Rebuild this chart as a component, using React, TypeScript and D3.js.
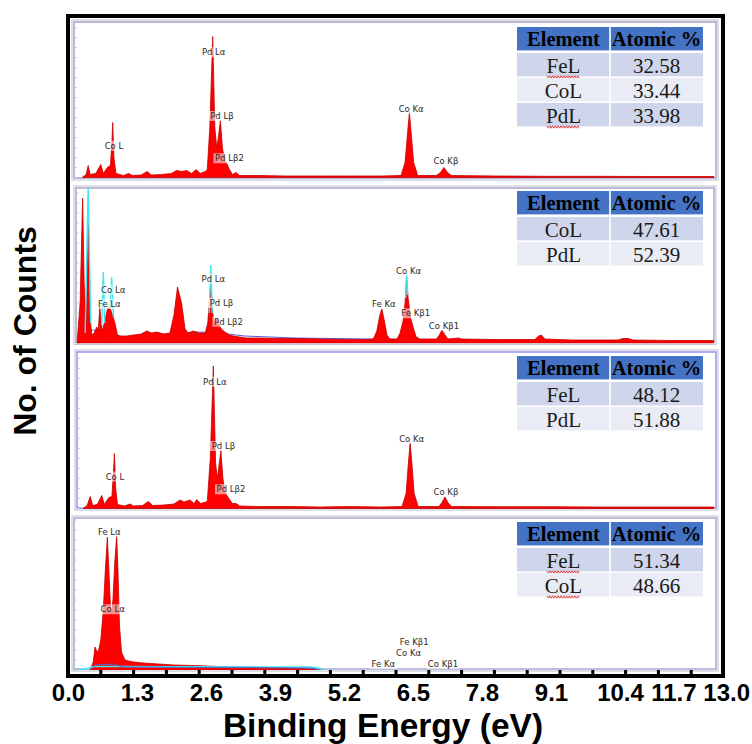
import { useMemo } from 'react';
import * as d3 from 'd3';

type Pt = [number, number];
type Peak = [string, number, number];

// x axis (keV)
const tickLabels = ['0.0', '1.3', '2.6', '3.9', '5.2', '6.5', '7.8', '9.1', '10.4', '11.7', '13.0'];
const minorTicks = d3.range(1, 20).map((i) => i * 0.65);

// spectra: [energy keV, counts]
const spectrumFeCoPd: Pt[] = [
  [0.28, 0], [0.36, 30], [0.4, 120], [0.44, 30], [0.55, 40], [0.65, 130], [0.7, 40], [0.78, 100],
  [0.84, 120], [0.87, 350], [0.886, 550], [0.91, 200], [0.95, 40], [1.1, 20], [1.2, 40], [1.28, 20],
  [1.45, 25], [1.57, 60], [1.65, 25], [1.85, 30], [2.05, 40], [2.15, 70], [2.25, 60], [2.35, 70],
  [2.45, 40], [2.54, 80], [2.62, 40], [2.72, 60], [2.76, 80], [2.81, 500], [2.868, 1410], [2.91, 500],
  [2.947, 300], [2.98, 400], [3.02, 570], [3.06, 300], [3.1, 170], [3.145, 140], [3.2, 80], [3.26, 30],
  [3.33, 50], [3.4, 20], [3.8, 20], [4.3, 15], [5.0, 15], [5.6, 15], [6.2, 15], [6.6, 20], [6.68, 150],
  [6.73, 450], [6.766, 650], [6.8, 450], [6.85, 150], [6.93, 20], [7.3, 20], [7.38, 50], [7.45, 100],
  [7.52, 50], [7.6, 20], [8.5, 15], [9.5, 12], [10.5, 12], [11.5, 10], [12.8, 10],
];
const spectrumCoPd: Pt[] = [
  [0.18, 0], [0.24, 400], [0.29, 1450], [0.32, 600], [0.36, 160], [0.38, 600], [0.4, 1260], [0.43, 300],
  [0.47, 80], [0.52, 100], [0.57, 160], [0.6, 120], [0.63, 360], [0.66, 200], [0.68, 120], [0.72, 200],
  [0.78, 340], [0.83, 360], [0.88, 280], [0.93, 200], [0.98, 80], [1.05, 70], [1.16, 70], [1.3, 80],
  [1.45, 90], [1.56, 120], [1.66, 100], [1.76, 110], [1.9, 90], [2.02, 100], [2.1, 280], [2.17, 560],
  [2.25, 400], [2.32, 140], [2.38, 100], [2.48, 120], [2.6, 100], [2.72, 100], [2.77, 200], [2.83, 600],
  [2.87, 300], [2.89, 190], [2.93, 240], [2.96, 230], [3.01, 160], [3.06, 130], [3.11, 110], [3.2, 80],
  [3.28, 70], [3.4, 60], [3.54, 50], [3.8, 50], [4.2, 45], [4.6, 45], [5.0, 40], [5.5, 35], [5.9, 35],
  [6.05, 40], [6.12, 120], [6.18, 280], [6.22, 340], [6.27, 220], [6.32, 80], [6.38, 40], [6.52, 40],
  [6.58, 100], [6.64, 220], [6.68, 400], [6.71, 660], [6.74, 450], [6.79, 250], [6.85, 140], [6.9, 60],
  [6.98, 40], [7.3, 40], [7.36, 80], [7.41, 130], [7.47, 80], [7.53, 40], [7.75, 50], [7.8, 40],
  [8.5, 35], [9.25, 35], [9.33, 70], [9.38, 80], [9.45, 40], [10.0, 30], [10.9, 30], [11.0, 45],
  [11.1, 45], [11.2, 30], [12.0, 25], [12.8, 25],
];
const spectrumFePd: Pt[] = [
  [0.3, 0], [0.38, 30], [0.44, 120], [0.49, 30], [0.58, 40], [0.67, 130], [0.72, 40], [0.81, 110],
  [0.87, 120], [0.9, 350], [0.92, 550], [0.945, 200], [0.98, 40], [1.12, 25], [1.23, 45], [1.3, 25],
  [1.48, 30], [1.59, 70], [1.68, 30], [1.9, 35], [2.1, 45], [2.22, 85], [2.3, 65], [2.42, 85], [2.5, 50],
  [2.55, 90], [2.63, 50], [2.76, 70], [2.82, 500], [2.88, 1426], [2.925, 450], [2.96, 300], [2.99, 420],
  [3.03, 580], [3.07, 300], [3.11, 170], [3.15, 130], [3.2, 90], [3.26, 50], [3.33, 50], [3.4, 25],
  [3.8, 20], [4.4, 20], [5.0, 15], [5.6, 20], [6.2, 15], [6.62, 20], [6.7, 150], [6.745, 450],
  [6.78, 660], [6.815, 450], [6.86, 150], [6.94, 20], [7.35, 20], [7.41, 60], [7.47, 116], [7.53, 60],
  [7.6, 20], [8.5, 18], [9.5, 18], [10.5, 15], [11.5, 15], [12.8, 15],
];
const spectrumFeCo: Pt[] = [
  [0.44, 0], [0.5, 80], [0.535, 230], [0.56, 200], [0.6, 180], [0.65, 300], [0.7, 600], [0.74, 1000],
  [0.78, 1330], [0.81, 1000], [0.84, 650], [0.866, 550], [0.89, 700], [0.93, 1100], [0.965, 1340],
  [0.99, 1000], [1.02, 450], [1.06, 180], [1.13, 100], [1.2, 90], [1.3, 80], [1.49, 70], [1.8, 60],
  [2.1, 50], [2.48, 45], [3.0, 35], [3.5, 30], [3.8, 25], [4.3, 20], [4.86, 10], [5.05, 0],
];

// overlay traces (null = gap)
const overlayCoPd: (Pt | null)[] = [
  [0.34, 100], [0.4, 1570], [0.45, 200], null,
  [0.67, 180], [0.7, 710], [0.73, 200], null,
  [0.83, 340], [0.866, 660], [0.9, 260], null,
  [2.8, 300], [2.83, 780], [2.86, 300], null,
  [6.69, 450], [6.71, 680], [6.73, 480],
];
const backgroundCoPd: Pt[] = [
  [0.2, 0], [0.35, 100], [0.5, 130], [0.65, 120], [0.8, 80], [1.0, 60], [1.5, 70], [2.0, 90],
  [2.6, 110], [3.0, 100], [3.5, 70], [4.5, 50], [6.0, 40], [7.0, 35], [8.0, 30],
];
const overlayFeCo: Pt[] = [
  [0.2, 0], [0.4, 15], [0.5, 35], [1.2, 35], [2.0, 33], [4.8, 30], [4.95, 20], [5.05, 0],
];
const backgroundFeCo: Pt[] = [
  [0.45, 0], [0.55, 50], [0.9, 60], [1.1, 30], [1.5, 30], [2.5, 25], [4.8, 20], [5.0, 0],
];

// peak labels: [text, energy, counts]
const peaksFeCoPd: Peak[] = [
  ['Co L', 0.91, 318], ['Pd Lα', 2.887, 1252], ['Pd Lβ', 3.05, 615], ['Pd Lβ2', 3.2, 192],
  ['Co Kα', 6.8, 688], ['Co Kβ', 7.49, 165],
];
const peaksCoPd: Peak[] = [
  ['Co Lα', 0.895, 530], ['Fe Lα', 0.82, 390], ['Pd Lα', 2.88, 643], ['Pd Lβ', 3.04, 403],
  ['Pd Lβ2', 3.18, 213], ['Fe Kα', 6.26, 390], ['Co Kα', 6.75, 720], ['Fe Kβ1', 6.89, 297],
  ['Co Kβ1', 7.45, 173],
];
const peaksFePd: Peak[] = [
  ['Co L', 0.93, 320], ['Pd Lα', 2.91, 1268], ['Pd Lβ', 3.08, 625], ['Pd Lβ2', 3.23, 192],
  ['Co Kα', 6.81, 695], ['Co Kβ', 7.49, 168],
];
const peaksFeCo: Peak[] = [
  ['Fe Lα', 0.82, 1377], ['Co Lα', 0.886, 607], ['Fe Kβ1', 6.86, 277], ['Co Kα', 6.75, 167],
  ['Fe Kα', 6.25, 60], ['Co Kβ1', 7.43, 60],
];

// atomic composition tables
const tableFeCoPd = [['FeL', '32.58'], ['CoL', '33.44'], ['PdL', '33.98']];
const tableCoPd = [['CoL', '47.61'], ['PdL', '52.39']];
const tableFePd = [['FeL', '48.12'], ['PdL', '51.88']];
const tableFeCo = [['FeL', '51.34'], ['CoL', '48.66']];
const flaggedFeCoPd = ['FeL', 'PdL'];
const flaggedFeCo = ['FeL', 'CoL'];

const sans = 'Liberation Sans, Arial, sans-serif';
const serif = 'Liberation Serif, Times New Roman, serif';

function wavyPath(x0: number, x1: number, y: number) {
  const pts: Pt[] = d3.range(x0, x1 + 0.1, 1.4).map((v, i) => [v, y + (i % 2 ? 1.2 : -1.2)]);
  return d3.line()(pts) || '';
}

function Panel({ p, x }: any) {
  const y = d3.scaleLinear().domain([0, (p.base - p.top) * 10]).range([p.base, p.top]);
  const area = d3.area<Pt>().x((d) => x(d[0])).y0(p.base).y1((d) => y(d[1]));
  const line = d3.line<Pt | null>().defined((d) => d != null).x((d) => x(d![0])).y((d) => y(d![1]));
  const clipId = `clip-${p.key}`;
  const col = [517, 610, 703];
  const rowTop = (i: number) => p.tableTop + 26 + i * 25;

  return (
    <g>
      <defs>
        <clipPath id={clipId}>
          <rect x={p.left + 2} y={p.top + 2} width={p.right - p.left - 4} height={p.bottom - p.top - 3} />
        </clipPath>
      </defs>
      <rect x={p.left} y={p.top} width={p.right - p.left} height={p.bottom - p.top} fill="#fff" stroke="#c9c9d6" strokeWidth={1.2} />
      <rect x={p.left + 2} y={p.top + 2} width={p.right - p.left - 4} height={p.bottom - p.top - 4} fill="none" stroke={p.frame} strokeWidth={1.4} />
      {y.ticks(16).map((t) => (
        <line key={t} x1={p.left + 2} x2={p.left + 5} y1={y(t)} y2={y(t)} stroke="#c4c4d0" strokeWidth={0.8} />
      ))}
      <g clipPath={`url(#${clipId})`}>
        {p.background && <path d={line(p.background) || ''} fill="none" stroke="#5a5ad0" strokeWidth={1} />}
        <path d={area(p.spectrum) || ''} fill="#ff0000" stroke="#c40000" strokeWidth={0.8} />
        {p.overlay && <path d={line(p.overlay) || ''} fill="none" stroke="#3fe6f0" strokeWidth={1.4} />}
        {p.backgroundTop && <path d={line(p.backgroundTop) || ''} fill="none" stroke="#4a6ad0" strokeWidth={1} />}
      </g>
      {p.peaks.map(([label, e, c]: Peak) => {
        const w = label.length * 5 + 2;
        return (
          <g key={label + e}>
            <rect x={x(e) - w / 2} y={y(c) - 5} width={w} height={10} fill="#fff" opacity={0.55} />
            <text x={x(e)} y={y(c) + 3} textAnchor="middle" fontSize={8.5} fontFamily="DejaVu Sans, sans-serif" fill="#2a2a2a">
              {label}
            </text>
          </g>
        );
      })}
      <g fontFamily={serif}>
        <rect x={col[0]} y={p.tableTop} width={col[1] - col[0] - 0.8} height={23.4} fill="#4472c4" />
        <rect x={col[1] + 0.8} y={p.tableTop} width={col[2] - col[1] - 0.8} height={23.4} fill="#4472c4" />
        <text x={(col[0] + col[1]) / 2} y={p.tableTop + 19} textAnchor="middle" fontSize={20.5} fontWeight="bold" fill="#000">Element</text>
        <text x={(col[1] + col[2]) / 2} y={p.tableTop + 19} textAnchor="middle" fontSize={20.5} fontWeight="bold" fill="#000">Atomic %</text>
        {p.table.map((row: string[], i: number) => {
          const fill = i % 2 === 0 ? '#cfd5ea' : '#e9ebf5';
          const flagged = p.flagged.includes(row[0]);
          return (
            <g key={row[0]}>
              <rect x={col[0]} y={rowTop(i)} width={col[1] - col[0] - 0.8} height={23.4} fill={fill} />
              <rect x={col[1] + 0.8} y={rowTop(i)} width={col[2] - col[1] - 0.8} height={23.4} fill={fill} />
              <text x={(col[0] + col[1]) / 2} y={rowTop(i) + 19.5} textAnchor="middle" fontSize={21} fill="#1a1a1a">{row[0]}</text>
              <text x={(col[1] + col[2]) / 2} y={rowTop(i) + 19.5} textAnchor="middle" fontSize={21} fill="#1a1a1a">{row[1]}</text>
              {flagged && (
                <path d={wavyPath(547, 580, rowTop(i) + 24)} fill="none" stroke="#e03030" strokeWidth={0.9} />
              )}
            </g>
          );
        })}
      </g>
    </g>
  );
}

export default function App() {
  const x = useMemo(() => d3.scaleLinear().domain([0, 13]).range([68, 724]), []);

  const panels = [
    { key: 'p1', spectrum: spectrumFeCoPd, peaks: peaksFeCoPd, table: tableFeCoPd, flagged: flaggedFeCoPd,
      left: 72, right: 718, top: 20, bottom: 180, base: 177.5, tableTop: 27, frame: '#9c9cc8' },
    { key: 'p2', spectrum: spectrumCoPd, peaks: peaksCoPd, table: tableCoPd, flagged: [],
      overlay: overlayCoPd, background: backgroundCoPd,
      left: 74, right: 716, top: 186, bottom: 344.5, base: 343, tableTop: 191, frame: '#a2a2c4' },
    { key: 'p3', spectrum: spectrumFePd, peaks: peaksFePd, table: tableFePd, flagged: [],
      left: 75, right: 718, top: 350, bottom: 510, base: 508.5, tableTop: 356, frame: '#8c8cf0' },
    { key: 'p4', spectrum: spectrumFeCo, peaks: peaksFeCo, table: tableFeCo, flagged: flaggedFeCo,
      overlay: overlayFeCo, backgroundTop: backgroundFeCo,
      left: 72, right: 718, top: 516, bottom: 671, base: 670, tableTop: 522, frame: '#a0a0cc' },
  ];

  // tick labels: spaced along their own scale, pushed left where they would collide
  const labelFont = 24;
  const labelPos = useMemo(() => {
    const s = d3.scaleLinear().domain([0, 13]).range([68.5, 758.5]);
    const widths = tickLabels.map((t) => t.split('').reduce((a, ch) => a + (ch === '.' ? 0.278 : 0.556), 0) * labelFont);
    const pos = tickLabels.map((t) => s(Number(t)));
    let limit = 750;
    for (let i = pos.length - 1; i >= 0; i--) {
      pos[i] = Math.min(pos[i], limit - widths[i] / 2);
      limit = pos[i] - widths[i] / 2 - 6;
    }
    return pos;
  }, []);

  return (
    <svg width={752} height={744} style={{ position: 'absolute', left: 0, top: 0, background: '#fff' }}>
      <rect width={752} height={744} fill="#fff" />
      {panels.map((p) => (
        <Panel key={p.key} p={p} x={x} />
      ))}
      <rect x={68} y={16} width={655} height={660} fill="none" stroke="#000" strokeWidth={4} />
      {minorTicks.map((t) => (
        <line key={t} x1={x(t)} x2={x(t)} y1={676} y2={670} stroke="#000" strokeWidth={3} />
      ))}
      <g fontFamily={sans} fontWeight="bold" fill="#000">
        {tickLabels.map((t, i) => (
          <text key={t} x={labelPos[i]} y={701} textAnchor="middle" fontSize={labelFont}>{t}</text>
        ))}
        <text x={383} y={737} textAnchor="middle" fontSize={33.5}>Binding Energy (eV)</text>
        <text transform="translate(36,331) rotate(-90)" textAnchor="middle" fontSize={32}>No. of Counts</text>
      </g>
    </svg>
  );
}
